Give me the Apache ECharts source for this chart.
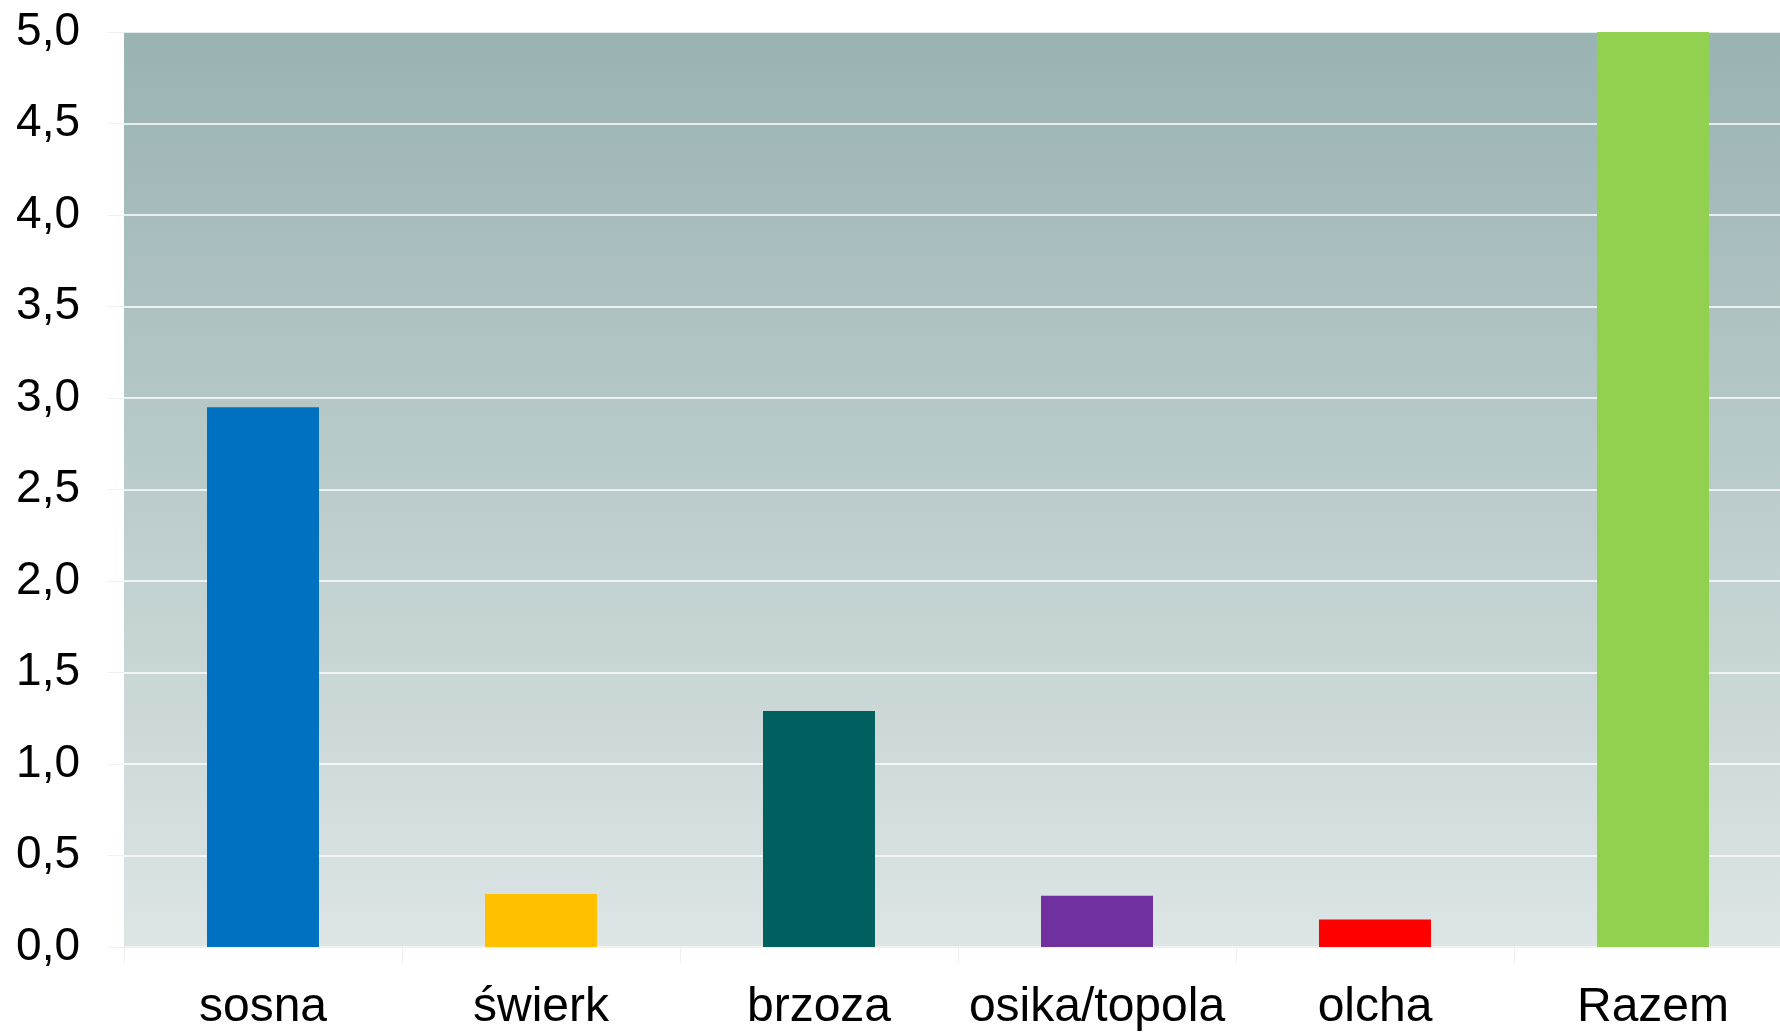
<!DOCTYPE html>
<html>
<head>
<meta charset="utf-8">
<script src="https://cdn.jsdelivr.net/npm/echarts@6/dist/echarts.min.js"></script>
<style>
  html, body { margin: 0; padding: 0; background: #fff; overflow: hidden; }
  /* wykres jest przycięty z prawej strony, więc kontener jest szerszy od okna */
  #chart { width: 1792px; height: 1032px; }
</style>
</head>
<body>
<div id="chart"></div>
<script>
// gatunki drzew
var categories = ['sosna', 'świerk', 'brzoza', 'osika/topola', 'olcha', 'Razem'];
var values = [2.95, 0.29, 1.29, 0.28, 0.15, 5.0];
var barColors = ['#0070c0', '#ffc000', '#00605f', '#7030a0', '#ff0000', '#92d050'];

var yMin = 0, yMax = 5, yStep = 0.5;

var chart = echarts.init(document.getElementById('chart'));

var option = {
    animation: false,
    textStyle: { fontFamily: 'Liberation Sans' },
    grid: {
        left: 124,
        top: 32,
        right: 0,
        bottom: 81,
        show: true,
        borderWidth: 0,
        backgroundColor: new echarts.graphic.LinearGradient(0, 0, 0, 1, [
            { offset: 0, color: '#99b2b2' },
            { offset: 1, color: '#dde5e5' }
        ])
    },
    xAxis: {
        type: 'category',
        data: categories,
        axisLine: { show: true, lineStyle: { color: '#f0f2f2', width: 2 } },
        axisTick: { show: true, length: 16, lineStyle: { color: '#eef0f0', width: 1 } },
        axisLabel: {
            color: '#000',
            fontSize: 48,
            margin: 37,
            interval: 0,
            fontFamily: 'Liberation Sans'
        }
    },
    yAxis: {
        type: 'value',
        min: yMin,
        max: yMax,
        interval: yStep,
        axisLine: { show: false },
        axisTick: { show: true, length: 16, lineStyle: { color: '#eef0f0', width: 1 } },
        splitLine: { show: true, lineStyle: { color: '#ffffff', width: 1.5 } },
        axisLabel: {
            color: '#000',
            fontSize: 46,
            margin: 44,
            fontFamily: 'Liberation Sans',
            formatter: function (v) { return v.toFixed(1).replace('.', ','); }
        }
    },
    series: [{
        type: 'bar',
        barWidth: 112,
        data: values.map(function (v, i) {
            return { value: v, itemStyle: { color: barColors[i] } };
        })
    }]
};

chart.setOption(option);
</script>
</body>
</html>
